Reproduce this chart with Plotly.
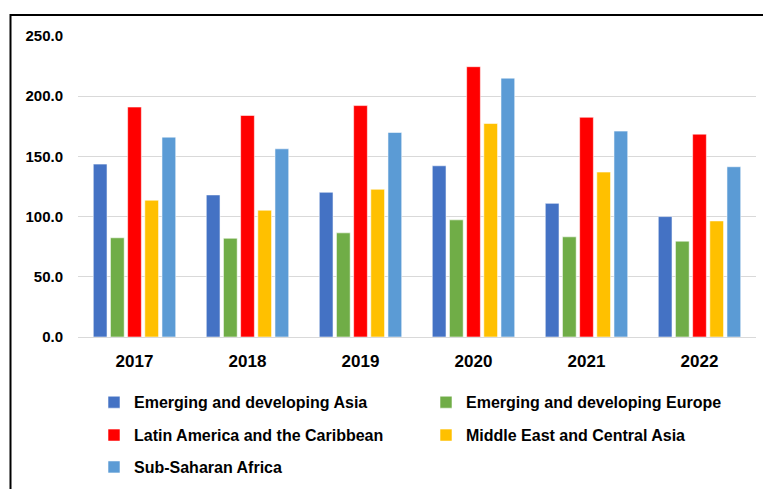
import plotly.graph_objects as go

years = ["2017", "2018", "2019", "2020", "2021", "2022"]
asia = [143.6, 118.0, 120.2, 142.2, 111.0, 100.0]
europe = [82.4, 82.0, 86.5, 97.3, 83.2, 79.6]
latam = [191.0, 184.0, 192.2, 224.5, 182.5, 168.5]
mideast = [113.6, 105.3, 122.7, 177.3, 137.0, 96.4]
ssa = [166.0, 156.3, 169.9, 215.0, 171.0, 141.4]

series = [
    ("Emerging and developing Asia", asia, "#4472C4", "legend"),
    ("Emerging and developing Europe", europe, "#70AD47", "legend"),
    ("Latin America and the Caribbean", latam, "#FF0000", "legend2"),
    ("Middle East and Central Asia", mideast, "#FFC000", "legend2"),
    ("Sub-Saharan Africa", ssa, "#5B9BD5", "legend3"),
]

FONT = "Liberation Sans, Arial, sans-serif"

fig = go.Figure()
for name, vals, color, lg in series:
    fig.add_trace(go.Bar(
        x=years, y=vals, name=name, legend=lg,
        marker=dict(color=color, line=dict(color="rgba(255,255,255,0.55)", width=1)),
    ))

W, H = 763, 489
ml, mr, mt, mb = 78, 7, 35.5, 151.5
ph = H - mt - mb
pw = W - ml - mr

def py(ypx):
    return (H - mb - ypx) / ph

def px(xpx):
    return (xpx - ml) / pw

legend_common = dict(
    orientation="h", xanchor="left", yanchor="middle",
    font=dict(family=FONT, size=16, color="#000000", weight="bold"),
    entrywidth=287, entrywidthmode="pixels",
    bgcolor="rgba(0,0,0,0)", traceorder="normal",
)

fig.update_layout(
    width=W, height=H,
    margin=dict(l=ml, r=mr, t=mt, b=mb, autoexpand=False),
    paper_bgcolor="white", plot_bgcolor="white",
    barmode="group", bargap=0.24, bargroupgap=0.2,
    font=dict(family=FONT, color="#000000"),
    xaxis=dict(
        showgrid=False, showline=False, ticks="",
        tickfont=dict(family=FONT, size=17, color="#000000", weight="bold"),
        ticklabelstandoff=12,
    ),
    yaxis=dict(
        range=[0, 250], dtick=50, tickformat=".1f",
        showgrid=True, gridcolor="#d9d9d9", gridwidth=1,
        zeroline=True, zerolinecolor="#d9d9d9", zerolinewidth=1,
        showline=False, ticks="",
        tickfont=dict(family=FONT, size=15, color="#000000", weight="bold"),
        ticklabelstandoff=14,
    ),
    legend=dict(x=px(94), y=py(403), **legend_common),
    legend2=dict(x=px(94), y=py(436), **legend_common),
    legend3=dict(x=px(94), y=py(468), **legend_common),
    shapes=[dict(
        type="rect", xref="paper", yref="paper",
        x0=px(10.5), x1=px(780), y0=py(14.5), y1=py(520),
        line=dict(color="#000000", width=2), fillcolor="rgba(0,0,0,0)",
        layer="above",
    )],
)

fig.write_html(
    "out.html",
    config={"displayModeBar": False},
    post_script="document.body.style.margin='0';document.body.style.overflow='hidden';",
)
